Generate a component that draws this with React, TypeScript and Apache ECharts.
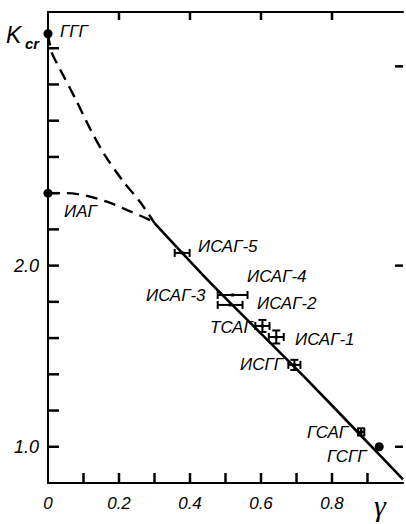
import React, { useEffect, useRef } from "react";
import * as echarts from "echarts";

// Upper dashed curve (ГГГ -> join)
const upperCurve: [number, number][] = [
  [0, 3.28], [0.01, 3.18], [0.035, 3.08], [0.08, 2.91], [0.12, 2.75],
  [0.16, 2.61], [0.21, 2.47], [0.26, 2.35], [0.3, 2.235],
];
// Lower dashed curve (ИАГ -> join)
const lowerCurve: [number, number][] = [
  [0, 2.4], [0.05, 2.4], [0.11, 2.385], [0.17, 2.35], [0.225, 2.305],
  [0.28, 2.258], [0.3, 2.235],
];
// Solid line
const solidLine: [number, number][] = [
  [0.3, 2.235], [0.45, 1.92], [0.6, 1.625], [0.72, 1.39], [0.88, 1.065], [1.0, 0.82],
];
// Filled points: ГГГ, ИАГ, ГСГГ
const dotPoints: [number, number][] = [
  [0, 3.28], [0, 2.4], [0.933, 1.0],
];
// Error-bar points: [gamma, Kcr, xErr, yErr]
const errNames = ["ИСАГ-5", "ИСАГ-4", "ИСАГ-3", "ТСАГ", "ИСАГ-1", "ИСГГ", "ГСАГ"];
const errPoints: [number, number, number, number][] = [
  [0.378, 2.07, 0.021, 0],
  [0.52, 1.838, 0.042, 0],
  [0.513, 1.783, 0.035, 0],
  [0.604, 1.667, 0.02, 0.033],
  [0.643, 1.606, 0.021, 0.036],
  [0.694, 1.452, 0.017, 0.028],
  [0.882, 1.082, 0.009, 0.02],
];
const xLabelValues = [0, 0.2, 0.4, 0.6, 0.8];
const yLabelValues = [1, 2];
const bottomTicks = [0.1, 0.2, 0.3, 0.4, 0.5, 0.6, 0.7, 0.8, 0.9];
const topTicks = [0.2, 0.4, 0.6, 0.8];
const leftTicks = [1.0, 1.2, 1.4, 1.6, 1.8, 2.0, 2.2, 2.4, 2.6, 2.8, 3.0, 3.2];
const rightTicks = [1, 2, 3.1];

const X_MIN = 0, X_MAX = 1, Y_MIN = 0.8, Y_MAX = 3.4;
const labelFont = "italic 17px 'Liberation Sans', Arial, sans-serif";
const near = (v: number, list: number[]) => list.some((t) => Math.abs(v - t) < 1e-6);

export default function App() {
  const ref = useRef<HTMLDivElement>(null);
  useEffect(() => {
    if (!ref.current) return;
    const chart = echarts.init(ref.current, undefined, { renderer: "svg" });
    const axisLine = { show: true, lineStyle: { color: "#000", width: 2 } };
    const axisLabelStyle = {
      color: "#000",
      fontSize: 17,
      fontStyle: "italic" as const,
      fontFamily: "'Liberation Sans', Arial, sans-serif",
    };
    const dashed = { color: "#000", width: 2.4, type: [12, 7] as number[] };
    const texts: [string, number, number][] = [
      ["ГГГ", 60, 31],
      ["ИАГ", 64, 211],
      ["ИСАГ-5", 198, 246],
      ["ИСАГ-4", 247, 276],
      ["ИСАГ-3", 146, 295],
      ["ИСАГ-2", 257, 303],
      ["ТСАГ", 210, 327],
      ["ИСАГ-1", 295, 339],
      ["ИСГГ", 240, 364],
      ["ГСАГ", 307, 432],
      ["ГСГГ", 327, 456],
    ];
    // tick marks drawn as thin rectangles from the tick values
    const tickSeries = (data: number[][], size: number[], offset: number[]) => ({
      type: "scatter", data, symbol: "rect", symbolSize: size, symbolOffset: offset,
      clip: false, silent: true, z: 5,
      itemStyle: { color: "#000", opacity: 1 },
    });
    chart.setOption({
      animation: false,
      backgroundColor: "#fff",
      grid: { left: 48, right: 3, top: 12, bottom: 41, containLabel: false },
      xAxis: [
        {
          type: "value", position: "bottom", min: X_MIN, max: X_MAX, interval: 0.2,
          axisLine, splitLine: { show: false }, axisTick: { show: false },
          axisLabel: {
            ...axisLabelStyle, margin: 12,
            formatter: (v: number) => (!near(v, xLabelValues) ? "" : v === 0 ? "0" : v.toFixed(1)),
          },
        },
        {
          type: "value", position: "top", min: X_MIN, max: X_MAX,
          axisLine, splitLine: { show: false }, axisTick: { show: false }, axisLabel: { show: false },
        },
      ],
      yAxis: [
        {
          type: "value", position: "left", min: Y_MIN, max: Y_MAX, interval: 0.2,
          axisLine, splitLine: { show: false }, axisTick: { show: false },
          axisLabel: {
            ...axisLabelStyle, fontSize: 18, margin: 9,
            formatter: (v: number) => (near(v, yLabelValues) ? v.toFixed(1) : ""),
          },
        },
        {
          type: "value", position: "right", min: Y_MIN, max: Y_MAX,
          axisLine, splitLine: { show: false }, axisTick: { show: false }, axisLabel: { show: false },
        },
      ],
      series: [
        tickSeries(bottomTicks.map((v) => [v, Y_MIN]), [2.5, 10], [0, -5]),
        tickSeries(topTicks.map((v) => [v, Y_MAX]), [2.5, 8], [0, 4]),
        tickSeries(leftTicks.map((v) => [X_MIN, v]), [11, 2.5], [5.5, 0]),
        tickSeries(rightTicks.map((v) => [X_MAX, v]), [8, 2.5], [-4, 0]),
        { type: "line", data: upperCurve, smooth: 0.3, showSymbol: false, lineStyle: dashed },
        { type: "line", data: lowerCurve, smooth: 0.3, showSymbol: false, lineStyle: dashed },
        { type: "line", data: solidLine, smooth: 0.2, showSymbol: false, lineStyle: { color: "#000", width: 2.6 } },
        {
          type: "scatter", data: dotPoints, symbolSize: 9, clip: false, z: 6,
          itemStyle: { color: "#000", opacity: 1 },
        },
        {
          type: "custom", clip: false, z: 10,
          data: errPoints.map((p, i) => ({ name: errNames[i], value: p })),
          encode: { x: 0, y: 1 },
          renderItem: (_p: any, api: any) => {
            const x = api.value(0), y = api.value(1), ex = api.value(2), ey = api.value(3);
            const c = api.coord([x, y]);
            const style = { stroke: "#000", lineWidth: 2 };
            const cap = 4;
            const children: any[] = [];
            if (ex > 0) {
              const l = api.coord([x - ex, y])[0];
              const r = api.coord([x + ex, y])[0];
              children.push({ type: "line", shape: { x1: l, y1: c[1], x2: r, y2: c[1] }, style });
              children.push({ type: "line", shape: { x1: l, y1: c[1] - cap, x2: l, y2: c[1] + cap }, style });
              children.push({ type: "line", shape: { x1: r, y1: c[1] - cap, x2: r, y2: c[1] + cap }, style });
            }
            if (ey > 0) {
              const t = api.coord([x, y + ey])[1];
              const b = api.coord([x, y - ey])[1];
              children.push({ type: "line", shape: { x1: c[0], y1: t, x2: c[0], y2: b }, style });
              children.push({ type: "line", shape: { x1: c[0] - cap, y1: t, x2: c[0] + cap, y2: t }, style });
              children.push({ type: "line", shape: { x1: c[0] - cap, y1: b, x2: c[0] + cap, y2: b }, style });
            }
            children.push({ type: "rect", shape: { x: c[0] - 1.5, y: c[1] - 1.5, width: 3, height: 3 }, style: { fill: "#000" } });
            return { type: "group", children };
          },
        },
      ],
      graphic: [
        ...texts.map(([t, x, y]) => ({
          type: "text", x, y,
          style: { text: t, font: labelFont, fill: "#000", textVerticalAlign: "middle" },
        })),
        {
          type: "text", x: 6, y: 35,
          style: { text: "K", font: "italic 23px 'Liberation Sans', Arial, sans-serif", fill: "#000", textVerticalAlign: "middle" },
        },
        {
          type: "text", x: 25, y: 43,
          style: { text: "cr", font: "italic bold 15px 'Liberation Sans', Arial, sans-serif", fill: "#000", textVerticalAlign: "middle" },
        },
        {
          type: "text", x: 374, y: 505,
          style: { text: "γ", font: "italic 30px 'Liberation Serif', 'DejaVu Serif', serif", fill: "#000", textVerticalAlign: "middle" },
        },
      ],
    });
    return () => chart.dispose();
  }, []);
  return (
    <div
      ref={ref}
      style={{ position: "absolute", left: 0, top: 0, width: 406, height: 524, background: "#fff" }}
    />
  );
}
